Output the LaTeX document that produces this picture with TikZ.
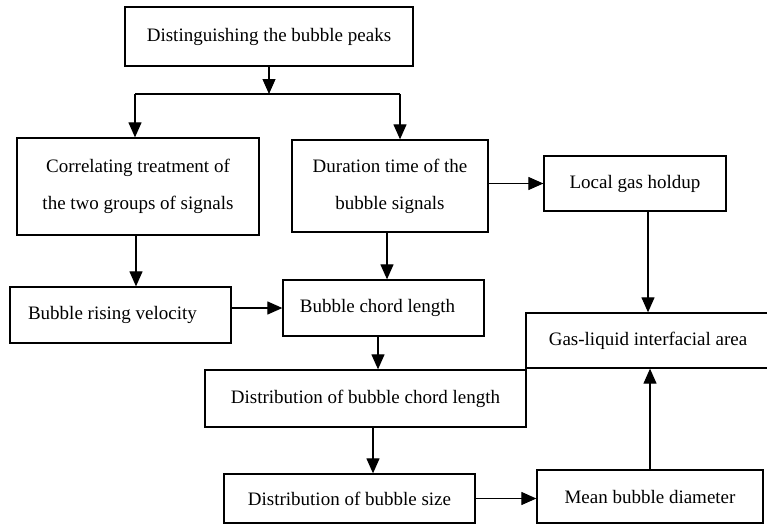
\documentclass[tikz,border=0pt]{standalone}
\usepackage{fontspec}
\setmainfont{Liberation Serif}
\usetikzlibrary{arrows.meta}

\tikzset{
  blk/.style={draw, line width=1.3pt, align=center, inner sep=0pt},
  flow/.style={line width=1.2pt}
}

\begin{document}
\begin{tikzpicture}[x=1pt,y=-1pt,>={Triangle[length=15pt,width=13pt]},
    font=\fontsize{19}{37}\selectfont]
        \useasboundingbox (0,0) rectangle (767,525);

        % boxes
        \node[blk,minimum width=288,minimum height=59] (peaks) at (269,36.5)
            {Distinguishing the bubble peaks};
        \node[blk,minimum width=242,minimum height=97] (corr) at (138,186.5)
            {Correlating treatment of\\the two groups of signals};
        \node[blk,minimum width=196,minimum height=92] (dur) at (390,186)
            {Duration time of the\\bubble signals};
        \node[blk,minimum width=182,minimum height=55] (holdup) at (635,183.5)
            {Local gas holdup};
        \node[blk,minimum width=221,minimum height=56] (rise) at (120.5,315)
            {\hspace*{-16pt}Bubble rising velocity};
        \node[blk,minimum width=201,minimum height=56] (chord) at (383.5,308)
            {\hspace*{-12pt}Bubble chord length};
        \node[blk,minimum width=244,minimum height=55] (area) at (648,340.5)
            {Gas-liquid interfacial area};
        \node[blk,minimum width=321,minimum height=57] (dchord) at (365.5,398.5)
            {Distribution of bubble chord length};
        \node[blk,minimum width=251,minimum height=49] (dsize) at (349.5,498.5)
            {Distribution of bubble size};
        \node[blk,minimum width=226,minimum height=53] (diam) at (650,496.5)
            {Mean bubble diameter};

        % split below the first box
        \coordinate (split) at (269,94);
        \coordinate (jl) at (135,94);
        \coordinate (jr) at (400,94);
        \draw[flow,->] (peaks.south) -- (split);
        \draw[flow] (jl) -- (jr);
        \draw[flow,->] (jl) -- (jl |- corr.north);
        \draw[flow,->] (jr) -- (jr |- dur.north);

        % connectors
        \draw[flow,->] (holdup.west -| dur.east) -- (holdup.west);
        \draw[flow,->] ([xshift=-2pt]corr.south) -- ([xshift=-2pt]corr.south |- rise.north);
        \draw[flow,->] (chord.west -| rise.east) -- (chord.west);
        \draw[flow,->] ([xshift=-3pt]dur.south) -- ([xshift=-3pt]dur.south |- chord.north);
        \draw[flow,->] ([xshift=-5.5pt]chord.south) -- ([xshift=-5.5pt]chord.south |- dchord.north);
        \draw[flow,->] (holdup.south -| area.north) -- (area.north);
        \draw[flow,->] ([xshift=7.5pt]dchord.south) -- ([xshift=7.5pt]dchord.south |- dsize.north);
        \draw[flow,->] (dsize.east) -- (dsize.east -| diam.west);
        \draw[flow,->] (diam.north) -- (diam.north |- area.south);
\end{tikzpicture}
\end{document}
